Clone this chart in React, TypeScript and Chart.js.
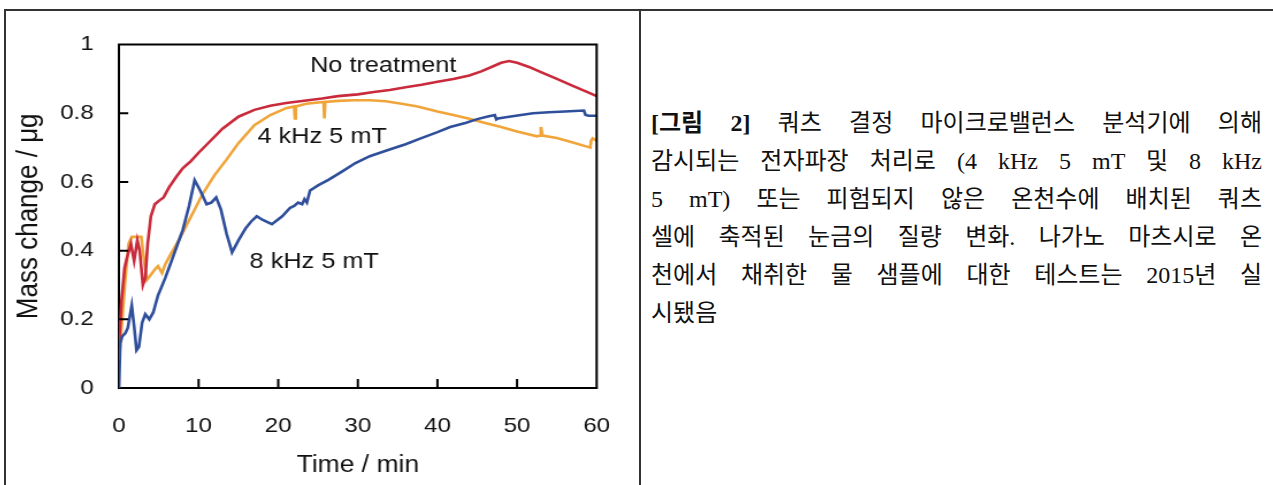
import React, { useEffect, useRef } from "react";
import { Chart, registerables } from "chart.js";

Chart.register(...registerables);

// ---------- data ----------
const timeNoTreatment = [0, 0.3, 0.7, 1.0, 1.5, 1.9, 2.3, 2.6, 3.0, 3.3, 3.6, 4.0, 4.5, 5.0, 5.6, 6.3, 7.2, 8.0, 9.0, 10.0, 11.5, 13.0, 15.0, 17.0, 19.0, 21.0, 23.0, 25.5, 27.5, 30.0, 32.0, 34.0, 36.0, 38.0, 40.0, 42.0, 44.0, 45.5, 47.0, 48.0, 49.0, 50.0, 51.5, 53.0, 55.0, 57.0, 59.0, 60.0];
const massNoTreatment = [0.12, 0.25, 0.35, 0.38, 0.42, 0.37, 0.43, 0.4, 0.3, 0.32, 0.42, 0.5, 0.535, 0.545, 0.555, 0.585, 0.615, 0.64, 0.66, 0.685, 0.72, 0.755, 0.79, 0.81, 0.822, 0.83, 0.836, 0.843, 0.85, 0.855, 0.862, 0.868, 0.876, 0.883, 0.892, 0.9, 0.91, 0.922, 0.937, 0.947, 0.952, 0.947, 0.935, 0.92, 0.9, 0.88, 0.86, 0.85];

const time4kHz = [0, 0.4, 0.8, 1.2, 1.6, 2.2, 2.8, 3.1, 3.5, 4.0, 4.5, 4.9, 5.4, 5.8, 6.5, 7.5, 8.5, 9.5, 10.5, 12.0, 13.5, 15.0, 17.0, 19.0, 21.0, 22.0, 22.1, 22.2, 23.5, 25.7, 25.8, 25.9, 27.5, 29.5, 31.5, 33.5, 35.5, 37.5, 40.0, 42.0, 44.0, 46.0, 48.0, 50.0, 52.5, 52.9, 53.0, 53.2, 55.0, 57.0, 59.2, 59.3, 59.5, 60.0];
const mass4kHz = [0.08, 0.2, 0.32, 0.42, 0.44, 0.44, 0.44, 0.38, 0.315, 0.33, 0.345, 0.355, 0.335, 0.36, 0.39, 0.43, 0.475, 0.52, 0.565, 0.62, 0.665, 0.713, 0.765, 0.795, 0.815, 0.82, 0.785, 0.82, 0.828, 0.833, 0.785, 0.833, 0.836, 0.838, 0.838, 0.835, 0.828, 0.82, 0.805, 0.795, 0.784, 0.772, 0.76, 0.747, 0.733, 0.735, 0.76, 0.735, 0.728, 0.715, 0.7, 0.72, 0.727, 0.72];

const time8kHz = [0, 0.15, 0.4, 0.8, 1.1, 1.6, 1.9, 2.2, 2.5, 2.9, 3.3, 3.8, 4.3, 4.9, 5.8, 6.6, 7.3, 8.0, 8.8, 9.5, 10.2, 11.0, 11.6, 12.2, 12.8, 13.5, 14.2, 15.0, 15.9, 16.6, 17.3, 18.0, 19.2, 20.5, 21.5, 22.0, 22.5, 23.0, 23.3, 23.6, 24.0, 25.0, 26.3, 28.0, 29.7, 31.5, 33.8, 36.0, 37.9, 40.0, 41.6, 43.5, 45.0, 46.2, 47.2, 47.4, 47.6, 49.0, 50.5, 52.0, 54.0, 56.0, 58.4, 58.6, 59.0, 60.0];
const mass8kHz = [0, 0.13, 0.15, 0.16, 0.175, 0.24, 0.18, 0.11, 0.12, 0.19, 0.215, 0.2, 0.22, 0.27, 0.32, 0.37, 0.415, 0.46, 0.53, 0.605, 0.575, 0.535, 0.54, 0.555, 0.52, 0.45, 0.395, 0.43, 0.465, 0.485, 0.5, 0.49, 0.477, 0.5, 0.525, 0.53, 0.54, 0.535, 0.55, 0.54, 0.575, 0.59, 0.606, 0.63, 0.655, 0.675, 0.693, 0.71, 0.727, 0.745, 0.76, 0.772, 0.783, 0.79, 0.795, 0.782, 0.785, 0.79, 0.795, 0.8, 0.803, 0.805, 0.808, 0.795, 0.793, 0.793];

const xTickValues = [0, 10, 20, 30, 40, 50, 60];
const yTickValues = [0, 0.2, 0.4, 0.6, 0.8, 1];
const xTitle = "Time / min";
const yTitle = "Mass change / μg";
const seriesNames = ["No treatment", "4 kHz 5 mT", "8 kHz 5 mT"];

const captionBold = "[그림 2]";
const captionLines = [
  " 쿼츠 결정 마이크로밸런스 분석기에 의해",
  "감시되는 전자파장 처리로 (4 kHz 5 mT 및 8 kHz",
  "5 mT) 또는 피험되지 않은 온천수에 배치된 쿼츠",
  "셀에 축적된 눈금의 질량 변화. 나가노 마츠시로 온",
  "천에서 채취한 물 샘플에 대한 테스트는 2015년 실",
  "시됐음",
];

// ---------- style / layout ----------
const RED = "#c92a3c";
const ORANGE = "#f0a53a";
const BLUE = "#2f4f9b";
const FONT = '"Liberation Sans", Arial, sans-serif';
const CELL_W = 635;
const CELL_H = 475;
const INNER_W = 552;
const STRETCH = CELL_W / INNER_W;

// label anchors in data space (time, mass) — left/baseline of text
const labelAnchors = [
  { name: 0, t: 24.0, v: 0.919 },
  { name: 1, t: 17.4, v: 0.713 },
  { name: 2, t: 16.4, v: 0.349 },
];

const toPoints = (t: number[], v: number[]) => t.map((x, i) => ({ x, y: v[i] }));

const decorPlugin = {
  id: "decor",
  afterDraw(chart: any) {
    const { ctx, chartArea, scales } = chart;
    const xs = scales.x;
    const ys = scales.y;
    ctx.save();
    ctx.strokeStyle = "#000";
    ctx.lineWidth = 2;
    ctx.beginPath();
    ctx.moveTo(chartArea.left - 1, chartArea.top);
    ctx.lineTo(chartArea.right, chartArea.top);
    ctx.lineTo(chartArea.right, chartArea.bottom + 1);
    xTickValues.forEach((v) => {
      if (v === xTickValues[0] || v === xTickValues[xTickValues.length - 1]) return;
      const px = xs.getPixelForValue(v);
      ctx.moveTo(px, chartArea.bottom);
      ctx.lineTo(px, chartArea.bottom - 9);
    });
    yTickValues.forEach((v) => {
      if (v === yTickValues[0] || v === yTickValues[yTickValues.length - 1]) return;
      const py = ys.getPixelForValue(v);
      ctx.moveTo(chartArea.left, py);
      ctx.lineTo(chartArea.left + 8, py);
    });
    ctx.stroke();
    ctx.fillStyle = "#111";
    ctx.font = `22px ${FONT}`;
    ctx.textAlign = "left";
    ctx.textBaseline = "alphabetic";
    labelAnchors.forEach((a) => {
      ctx.fillText(seriesNames[a.name], xs.getPixelForValue(a.t), ys.getPixelForValue(a.v));
    });
    ctx.restore();
  },
};

function MassChart() {
  const ref = useRef<HTMLCanvasElement | null>(null);
  useEffect(() => {
    if (!ref.current) return;
    const chart = new Chart(ref.current, {
      type: "line",
      data: {
        datasets: [
          { label: seriesNames[0], data: toPoints(timeNoTreatment, massNoTreatment), borderColor: RED, borderWidth: 2.6, pointRadius: 0, tension: 0, order: 1 },
          { label: seriesNames[1], data: toPoints(time4kHz, mass4kHz), borderColor: ORANGE, borderWidth: 2.6, pointRadius: 0, tension: 0, order: 2 },
          { label: seriesNames[2], data: toPoints(time8kHz, mass8kHz), borderColor: BLUE, borderWidth: 2.6, pointRadius: 0, tension: 0, order: 0 },
        ],
      },
      options: {
        animation: false,
        responsive: true,
        maintainAspectRatio: false,
        layout: { padding: { left: 0, top: 30, right: 34.8, bottom: 0 } },
        plugins: { legend: { display: false }, tooltip: { enabled: false } },
        scales: {
          x: {
            type: "linear",
            min: 0,
            max: 60,
            afterBuildTicks: (s: any) => { s.ticks = xTickValues.map((value) => ({ value })); },
            afterFit: (s: any) => { s.height = 97; },
            ticks: { font: { family: FONT, size: 21 }, color: "#111", padding: 26, maxRotation: 0, autoSkip: false },
            grid: { display: false, drawTicks: false },
            border: { display: true, color: "#000", width: 2 },
            title: { display: true, text: xTitle, color: "#111", font: { family: FONT, size: 23 }, padding: { top: 0, bottom: 6 } },
          },
          y: {
            type: "linear",
            min: 0,
            max: 1,
            afterBuildTicks: (s: any) => { s.ticks = yTickValues.map((value) => ({ value })); },
            afterFit: (s: any) => { s.width = 99.1; },
            ticks: { font: { family: FONT, size: 21 }, color: "#111", padding: 22, callback: (v: any) => String(v) },
            grid: { display: false, drawTicks: false },
            border: { display: true, color: "#000", width: 2 },
            title: { display: true, text: yTitle, color: "#111", font: { family: FONT, size: 26 }, padding: { top: 5, bottom: 0 } },
          },
        },
      },
      plugins: [decorPlugin],
    } as any);
    return () => chart.destroy();
  }, []);
  return (
    <div style={{ position: "absolute", left: 5, top: 10, width: INNER_W, height: CELL_H, transform: `scaleX(${STRETCH})`, transformOrigin: "0 0" }}>
      <canvas ref={ref} />
    </div>
  );
}

export default function App() {
  return (
    <div style={{ position: "fixed", left: 0, top: 0, width: 1273, height: 485, overflow: "hidden", background: "#fff" }}>
      <div style={{ position: "absolute", left: 4, top: 9, width: 1280, height: 490, borderTop: "2px solid #333", borderLeft: "2px solid #333" }} />
      <div style={{ position: "absolute", left: 639, top: 9, width: 2, height: 480, background: "#333" }} />
      <MassChart />
      <div style={{ position: "absolute", left: 651, top: 104, width: 611, fontFamily: '"Liberation Serif", "Noto Sans CJK KR", serif', fontSize: 24, lineHeight: "38px", color: "#111" }}>
        {captionLines.map((line, i) => (
          <div key={i} style={{ textAlign: "justify", textAlignLast: i < captionLines.length - 1 ? "justify" : "left", whiteSpace: "nowrap" } as any}>
            {i === 0 ? <b>{captionBold}</b> : null}
            {line}
          </div>
        ))}
      </div>
    </div>
  );
}
